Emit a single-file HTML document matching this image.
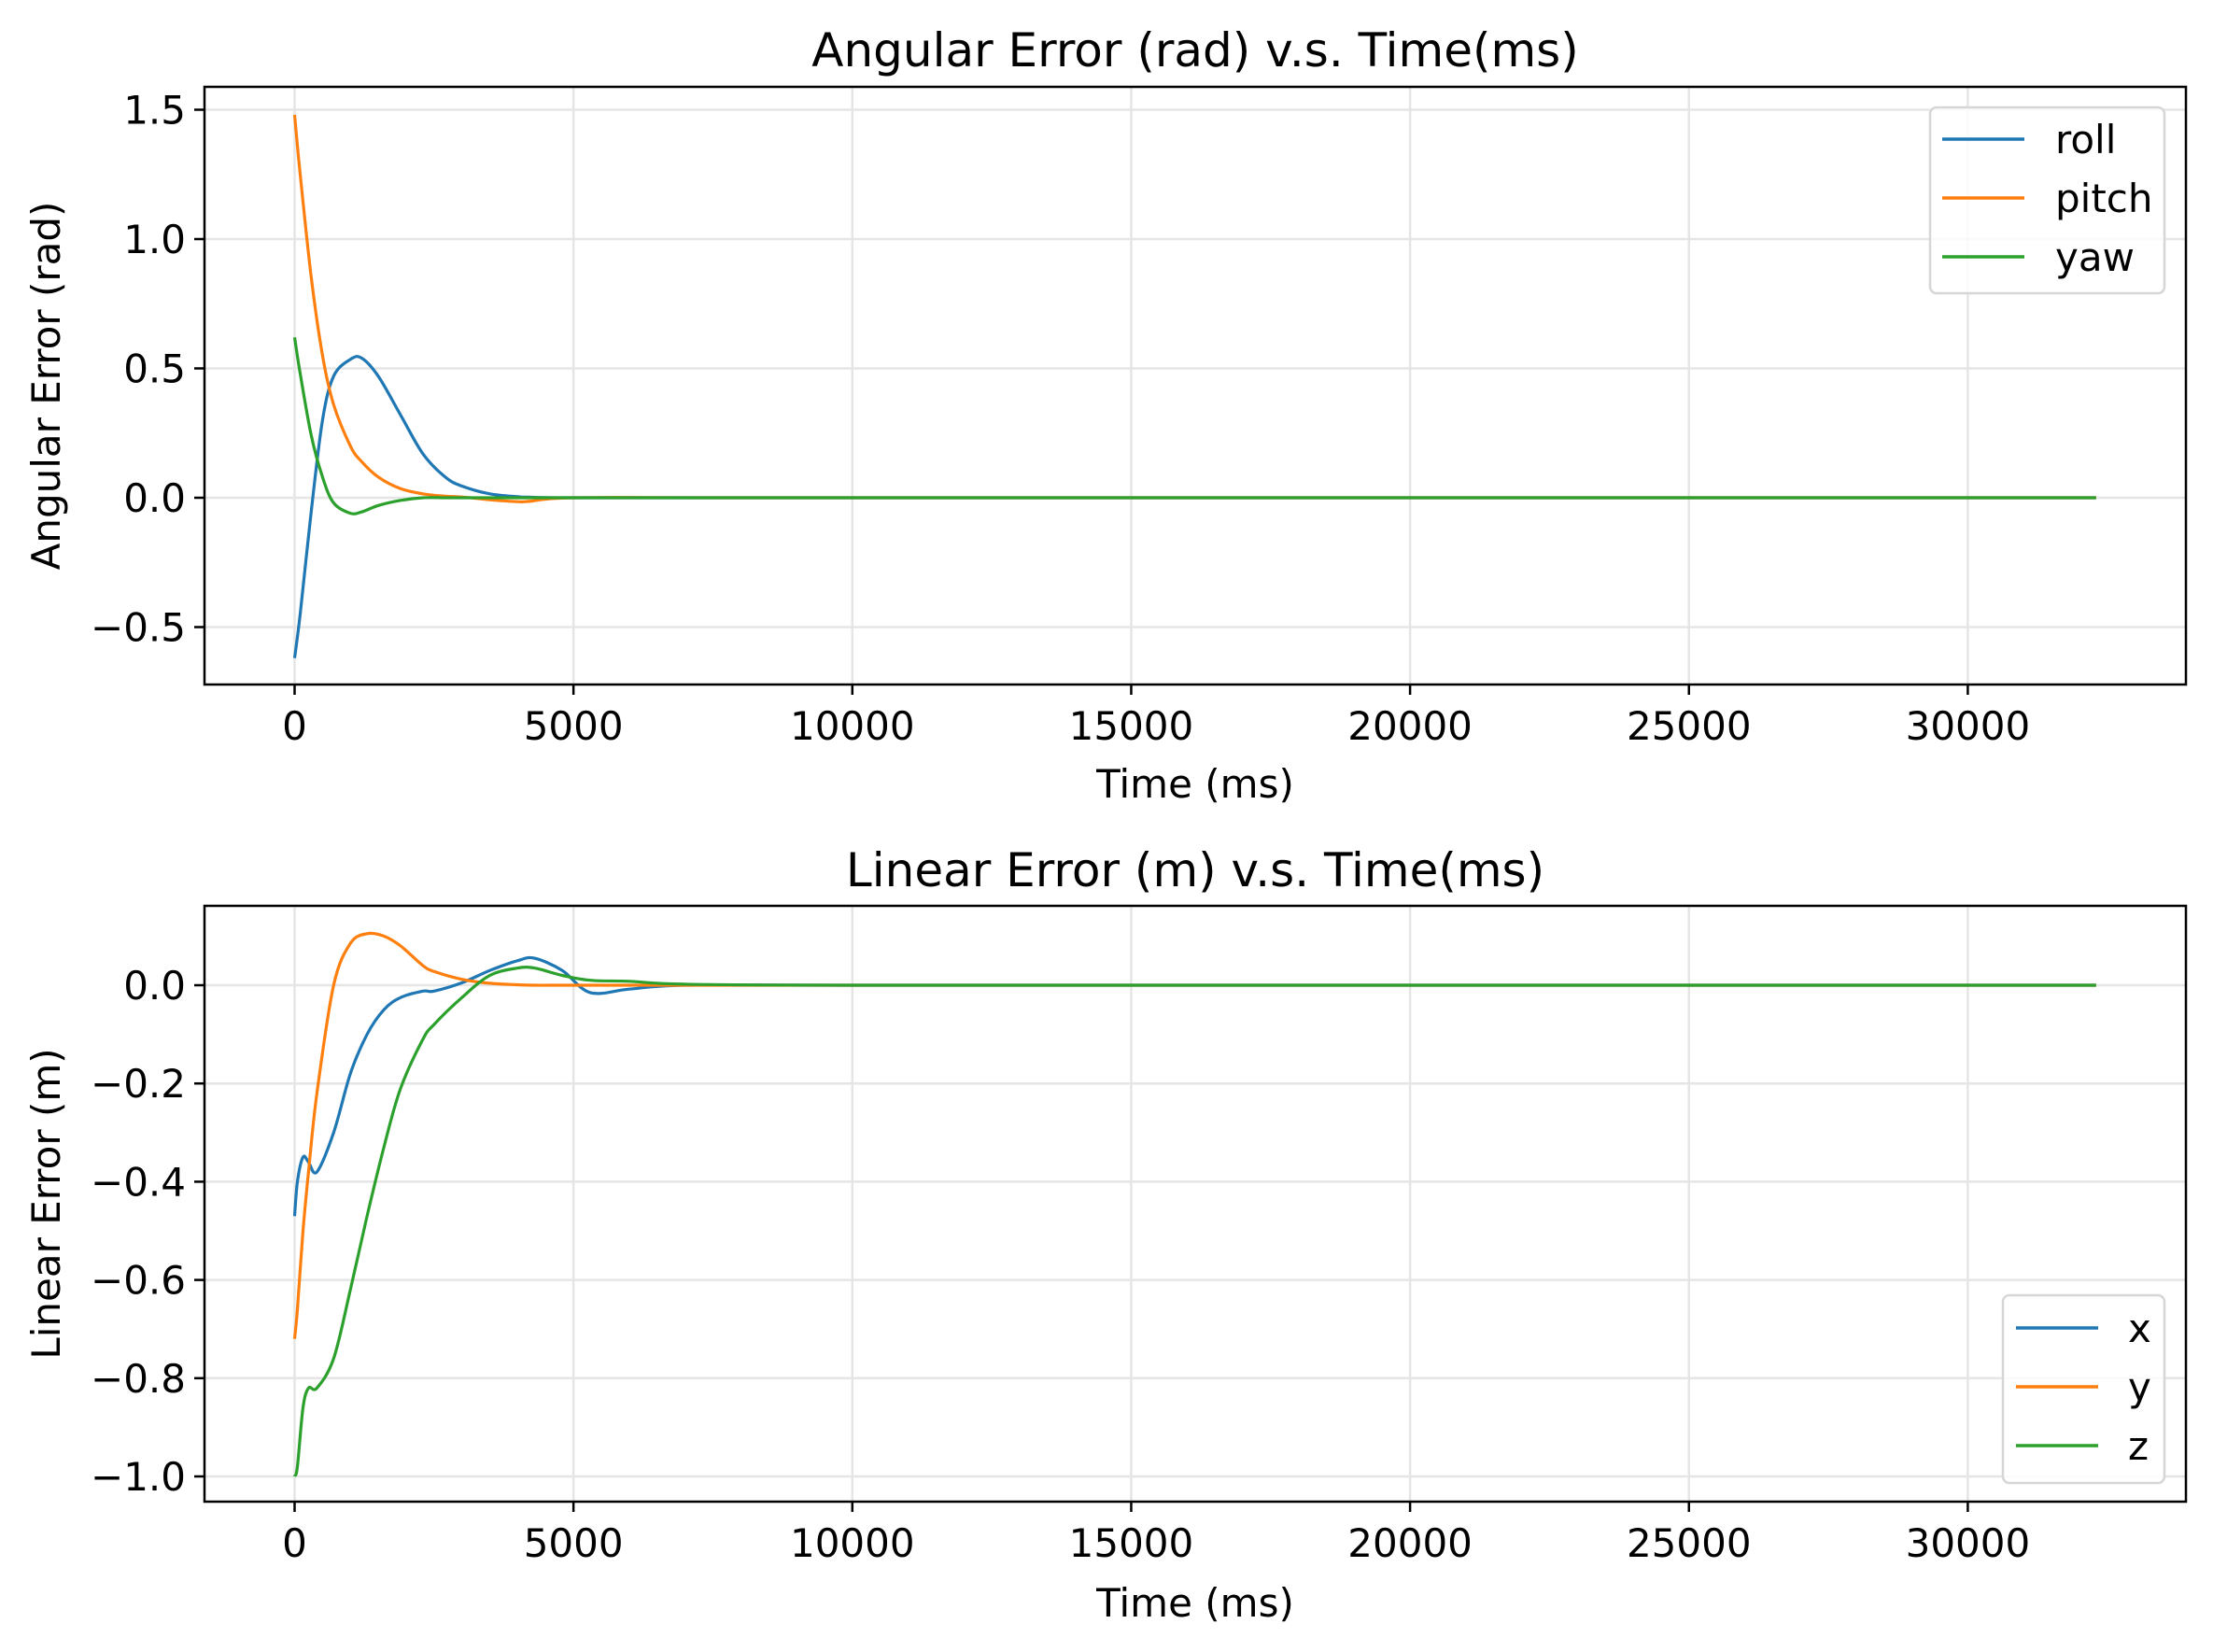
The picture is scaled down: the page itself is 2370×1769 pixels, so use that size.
<!DOCTYPE html>
<html><head><meta charset="utf-8"><style>
html,body{margin:0;padding:0;background:#fff}
svg{display:block;font-family:"DejaVu Sans","Liberation Sans",sans-serif}
</style></head><body>
<svg id="fig" width="2370" height="1769" viewBox="0 0 2370 1769"></svg>
<script>
const xTicks=[0,5000,10000,15000,20000,25000,30000];
const topYTicks=[1.5,1.0,0.5,0.0,-0.5];
const botYTicks=[0.0,-0.2,-0.4,-0.6,-0.8,-1.0];
const angT=[0,100,300,500,700,1000,1200,1500,1900,2300,2700,3000,3500,4000,4200,5000,8000,15000,25000,32300];
const rollV=[-0.62,-0.45,-0.05,0.3,0.47,0.535,0.54,0.47,0.32,0.17,0.08,0.045,0.015,0.004,0.002,0,0,0,0,0];
const pitchV=[1.48,1.25,0.85,0.55,0.36,0.2,0.14,0.08,0.035,0.015,0.006,0.003,-0.008,-0.015,-0.014,0,0,0,0,0];
const yawV=[0.62,0.48,0.24,0.08,-0.02,-0.06,-0.055,-0.03,-0.01,0,0,0,0,0,0,0,0,0,0,0];
const linT=[0,50,150,250,400,700,1000,1300,1600,1900,2300,2500,3000,3500,4000,4300,4800,5300,6000,7000,10000,20000,32300];
const xV=[-0.47,-0.4,-0.35,-0.36,-0.38,-0.3,-0.18,-0.1,-0.05,-0.025,-0.012,-0.012,0.005,0.03,0.05,0.055,0.03,-0.015,-0.008,0,0,0,0];
const yV=[-0.72,-0.66,-0.5,-0.38,-0.22,0.0,0.085,0.105,0.1,0.08,0.04,0.028,0.012,0.004,0.001,0,0,0,0,0,0,0,0];
const zV=[-1.0,-0.98,-0.86,-0.82,-0.82,-0.76,-0.62,-0.47,-0.33,-0.21,-0.11,-0.08,-0.025,0.02,0.035,0.035,0.02,0.01,0.008,0.002,0,0,0];

const NS="http://www.w3.org/2000/svg";
const svg=document.getElementById('fig');
function mk(tag,attrs,parent){const e=document.createElementNS(NS,tag);for(const k in attrs)e.setAttribute(k,attrs[k]);(parent||svg).appendChild(e);return e;}
const L=219,R=2341;
const xs=t=>315.5+(t/1000)*59.73;
const panels=[
 {top:93,bot:733,y:v=>533-277*v,ticks:topYTicks,fmt:v=>v.toFixed(1),title:"Angular Error (rad) v.s. Time(ms)",ylab:"Angular Error (rad)",titleY:71,xlabY:854,
  T:angT,series:[["roll",rollV,"#1f77b4"],["pitch",pitchV,"#ff7f0e"],["yaw",yawV,"#2ca02c"]],leg:{x:2067,y:115,w:251,h:199,lx:2080,tx:2201,ys:[149,212,275]}},
 {top:970,bot:1608,y:v=>1055-526*v,ticks:botYTicks,fmt:v=>v.toFixed(1),title:"Linear Error (m) v.s. Time(ms)",ylab:"Linear Error (m)",titleY:949,xlabY:1731,
  T:linT,series:[["x",xV,"#1f77b4"],["y",yV,"#ff7f0e"],["z",zV,"#2ca02c"]],leg:{x:2145,y:1387,w:173,h:201,lx:2159,tx:2279,ys:[1422,1485,1548]}}
];
function pathFrom(T,V,ys){
  const P=T.map((t,i)=>[xs(t),ys(V[i])]);
  let d="M"+P[0][0].toFixed(1)+","+P[0][1].toFixed(1);
  for(let i=0;i<P.length-1;i++){
    const p0=P[Math.max(i-1,0)],p1=P[i],p2=P[i+1],p3=P[Math.min(i+2,P.length-1)];
    const c1=[p1[0]+(p2[0]-p0[0])/6,p1[1]+(p2[1]-p0[1])/6];
    const c2=[p2[0]-(p3[0]-p1[0])/6,p2[1]-(p3[1]-p1[1])/6];
    d+=" C"+c1.map(v=>v.toFixed(1))+" "+c2.map(v=>v.toFixed(1))+" "+p2.map(v=>v.toFixed(1));
  }
  return d;
}
panels.forEach((p,pi)=>{
  const g=mk('g',{});
  
  
  xTicks.forEach(t=>{
    const gl=mk('line',{x1:xs(t),x2:xs(t),y1:p.top,y2:p.bot,stroke:"#e5e5e5","stroke-width":2.5},g);
    
    
  });
  p.ticks.forEach(v=>{
    const gl=mk('line',{x1:L,x2:R,y1:p.y(v),y2:p.y(v),stroke:"#e5e5e5","stroke-width":2.5},g);
    
    
  });
  p.series.forEach(s=>{
    const pa=mk('path',{d:pathFrom(p.T,s[1],p.y),fill:"none",stroke:s[2],"stroke-width":3.2,"stroke-linejoin":"round"},g);
    
    
  });
  const fr=mk('rect',{x:L,y:p.top,width:R-L,height:p.bot-p.top,fill:"none",stroke:"#000","stroke-width":2.5},g);
  
  
  xTicks.forEach(t=>{
    mk('line',{x1:xs(t),x2:xs(t),y1:p.bot,y2:p.bot+11,stroke:"#000","stroke-width":2.5},g);
    const tx=mk('text',{x:xs(t),y:p.bot+59,"font-size":42,"text-anchor":"middle"},g);
    tx.textContent=t;
    
    
  });
  p.ticks.forEach(v=>{
    mk('line',{x1:L-11,x2:L,y1:p.y(v),y2:p.y(v),stroke:"#000","stroke-width":2.5},g);
    const tx=mk('text',{x:L-20,y:p.y(v)+15,"font-size":42,"text-anchor":"end"},g);
    tx.textContent=p.fmt(v).replace('-','\u2212');
    
    
  });
  const ti=mk('text',{x:(L+R)/2,y:p.titleY,"font-size":50,"text-anchor":"middle"},g);
  ti.textContent=p.title;
  
  
  const xl=mk('text',{x:(L+R)/2,y:p.xlabY,"font-size":42,"text-anchor":"middle"},g);
  xl.textContent="Time (ms)";
  
  
  const cy=(p.top+p.bot)/2;
  const yl=mk('text',{x:0,y:0,"font-size":42,"text-anchor":"middle",transform:`translate(64,${cy}) rotate(-90)`},g);
  yl.textContent=p.ylab;
  
  
  const lg=mk('g',{},g);
  
  
  const q=p.leg;
  mk('rect',{x:q.x,y:q.y,width:q.w,height:q.h,rx:7,fill:"rgba(255,255,255,0.8)",stroke:"#d6d6d6","stroke-width":2.5},lg);
  p.series.forEach((s,i)=>{
    const e=mk('g',{},lg);
    
    
    mk('line',{x1:q.lx,x2:q.lx+88,y1:q.ys[i],y2:q.ys[i],stroke:s[2],"stroke-width":3.5},e);
    const t=mk('text',{x:q.tx,y:q.ys[i]+15,"font-size":42},e);
    t.textContent=s[0];
  });
});
</script>
</body></html>
